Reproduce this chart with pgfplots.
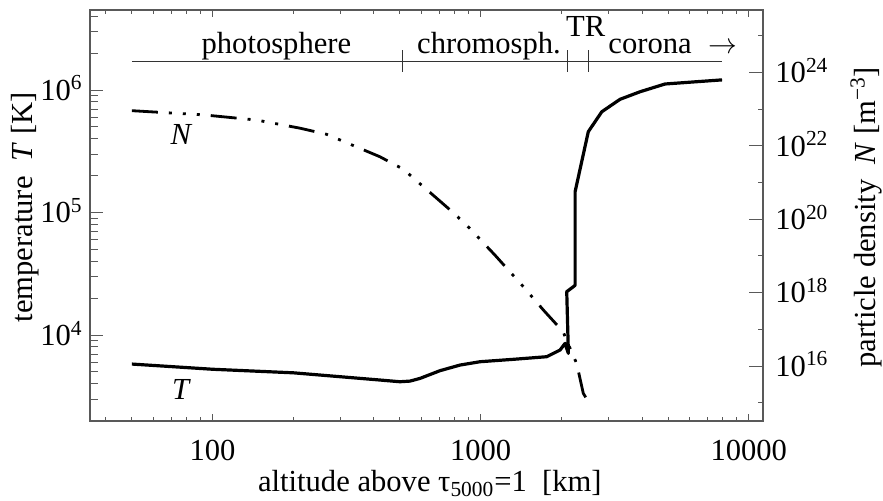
\documentclass[border=0pt]{standalone}
\usepackage{fontspec}
\setmainfont{Liberation Serif}
\usepackage{pgfplots}
\usepackage{pgfplotstable}
\pgfplotsset{compat=1.18}

% temperature profile (km, K)
\pgfplotstableread{
x T
50 5800
100 5260
200 4920
300 4570
421 4296
500 4160
545 4210
594 4430
705 5120
837 5690
994 6060
1324 6340
1763 6660
1977 7550
2064 8550
2124 7090
2094 22600
2215 24800
2250 25500
2250 148000
2520 457000
2830 665000
3310 840000
3930 968000
4870 1.12e6
7950 1.21e6
}\tempdata

% particle density (km, m^-3)
\pgfplotstableread{
x N
50 9.0e22
93 6.9e22
146 5.0e22
212 3.0e22
266 2.05e22
421 5.0e21
514 2.3e21
768 1.8e20
886 6.9e19
1130 1.05e19
1442 1.45e18
1713 3.35e17
2033 8.5e16
2064 6.3e16
2280 1.17e16
2414 1.8e15
2520 1.07e15
}\densdata

\definecolor{axisgray}{gray}{0.35}

\begin{document}
\fontsize{15.3}{18.4}\selectfont
\begin{tikzpicture}
% box and x axis
\begin{axis}[
  at={(0,0)}, anchor=south west,
  scale only axis, width=336.5pt, height=205.5pt,
  xmode=log, ymode=log,
  xmin=34.9, xmax=11300, ymin=1990, ymax=4.5e6,
  axis line style={axisgray, line width=0.6pt},
  tick style={axisgray, line width=0.5pt},
  tick align=inside, clip=false,
  ytick=\empty,
  xtick={100,1000,10000}, xticklabels={100,1000,10000},
  minor xtick={40,50,60,70,80,90,200,300,400,500,600,700,800,900,2000,3000,4000,5000,6000,7000,8000,9000},
  xtick pos=both,
  major tick length=3.75pt, minor tick length=2pt,
  xticklabel style={anchor=base, yshift=-20pt},
  xlabel={altitude above τ\textsubscript{5000}=1\ \ [km]},
  xlabel style={at={(axis description cs:0.505,0)}, anchor=base, yshift=-35.5pt},
]
\end{axis}

% temperature axis (left)
\begin{axis}[
  at={(0,0)}, anchor=south west,
  scale only axis, width=336.5pt, height=205.5pt,
  xmode=log, ymode=log,
  xmin=34.9, xmax=11300, ymin=1990, ymax=4.5e6,
  axis x line=none, axis y line*=left,
  axis line style={axisgray, line width=0.6pt, -},
  tick style={axisgray, line width=0.5pt},
  tick align=inside, clip=false,
  xtick=\empty,
  ytick={1e4,1e5,1e6},
  yticklabels={10\textsuperscript{4},10\textsuperscript{5},10\textsuperscript{6}},
  minor ytick={2000,3000,4000,5000,6000,7000,8000,9000,
    20000,30000,40000,50000,60000,70000,80000,90000,
    2e5,3e5,4e5,5e5,6e5,7e5,8e5,9e5,2e6,3e6,4e6},
  major tick length=6.5pt, minor tick length=3.85pt,
  yticklabel style={anchor=base east, yshift=-5.2pt, xshift=1.6pt},
  ylabel={temperature\ \ \textit{T} [K]},
  ylabel style={at={(axis description cs:-0.0847,0.52)}, anchor=base},
]
\addplot[black, line width=1.6pt, line join=round] table[x=x,y=T]{\tempdata};

\draw[black!80, line width=0.5pt] (axis cs:50,1.714e6) -- (axis cs:7950,1.714e6);
\draw[black!80, line width=0.5pt] (axis cs:510,2.12e6) -- (axis cs:510,1.40e6);
\draw[black!80, line width=0.5pt] (axis cs:2100,2.12e6) -- (axis cs:2100,1.40e6);
\draw[black!80, line width=0.5pt] (axis cs:2530,2.12e6) -- (axis cs:2530,1.40e6);

\node[anchor=base] at (axis cs:173,1.994e6) {photosphere};
\node[anchor=base] at (axis cs:1074,1.994e6) {chromosph.};
\node[anchor=base] at (axis cs:2466,2.72e6) {TR};
\node[anchor=base] at (axis cs:4285,1.994e6) {corona};
\node[anchor=base] at (axis cs:8035,1.994e6) {$\rightarrow$};
\node at (axis cs:76.6,4.3e5) {\textit{N}};
\node at (axis cs:76.6,3620) {\textit{T}};
\end{axis}

% density axis (right)
\begin{axis}[
  at={(0,0)}, anchor=south west,
  scale only axis, width=336.5pt, height=205.5pt,
  xmode=log, ymode=log,
  xmin=34.9, xmax=11300, ymin=3.18e14, ymax=4.98e25,
  axis x line=none, axis y line*=right,
  axis line style={axisgray, line width=0.6pt, -},
  tick style={axisgray, line width=0.5pt},
  tick align=inside, clip=false,
  xtick=\empty,
  ytick={1e16,1e18,1e20,1e22,1e24},
  yticklabels={10\textsuperscript{16},10\textsuperscript{18},10\textsuperscript{20},10\textsuperscript{22},10\textsuperscript{24}},
  minor ytick={1e15,1e17,1e19,1e21,1e23,1e25},
  major tick length=7pt, minor tick length=2.5pt,
  yticklabel style={anchor=base west, yshift=-5.2pt, xshift=0.9pt},
  ylabel={particle density\ \ \textit{N} [m\textsuperscript{−3}]},
  ylabel style={at={(axis description cs:1.1664,0.496)}, anchor=base},
]
\addplot[black, line width=1.4pt,
  dash pattern=on 13pt off 5.5pt on 1.5pt off 5.5pt on 1.5pt off 5.5pt on 1.5pt off 5.5pt]
  table[x=x,y=N]{\densdata};
\end{axis}

\pgfresetboundingbox
\path[use as bounding box] (-45pt,-40pt) rectangle (396.5pt,210.5pt);
\end{tikzpicture}
\end{document}
